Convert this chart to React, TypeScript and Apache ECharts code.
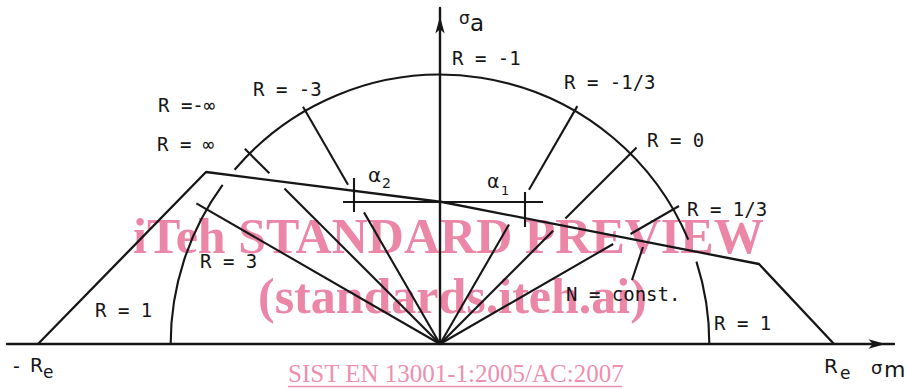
import React, { useEffect, useRef } from "react";
import * as echarts from "echarts";

// Haigh diagram: stress amplitude σa over mean stress σm, with R-ratio rays.

// Plot window in stress units (equal scale on both axes)
const sigmaMRange = [-324.75, 340.5];
const sigmaARange = [0, 252];

// Yield limits on the σm axis (-Re, Re)
const yieldLimits = [-301.5, 295.5];

// Constant-life envelope (N = const.)
const envelopeSigmaM = [-301.5, -175.5, 1.5, 239.25, 295.5];
const envelopeSigmaA = [0, 129, 106.5, 60, 0];

// Reference circle (R = -1 at the top) and its drawn spans, in degrees
const circleRadius = 202;
const circleSpans = [
  [0, 17.8],
  [22.8, 139.7],
  [143.8, 180],
];

// Rays of constant stress ratio: direction (deg) and drawn radial spans
const rayRatios = ["3", "∞", "-3", "-1/3", "0", "1/3"];
const rayAngles = [150, 135, 120, 60, 45, 30];
const raySpans = [
  [[0, 211]],
  [[0, 165], [181, 207]],
  [[0, 114], [138, 205.5]],
  [[0, 103.5], [133.5, 206]],
  [[0, 120], [133, 208.5]],
  [[0, 150], [165, 207]],
];

// Angle construction at σm = 0: horizontal reference and the two ray ticks
const alphaLevel = 106.5;
const alphaLineSpan = [-72.75, 77.25];
const alphaTickSigmaM = [-64.5, 63.75];
const alphaTickSpans = [
  [99, 124.5],
  [87.75, 114],
];

// Leader from the envelope to its "N = const." note
const leaderSigmaM = [152.25, 144];
const leaderSigmaA = [72.75, 48];

const INK = "#161616";
const PINK = "#ec86a6";
const MONO = "'DejaVu Sans Mono', monospace";
const SANS = "'DejaVu Sans', sans-serif";
const SERIF = "'Liberation Serif', 'Times New Roman', serif";

function buildSegments(): number[][][] {
  const segs: number[][][] = [];
  rayAngles.forEach((deg, i) => {
    const t = (deg * Math.PI) / 180;
    raySpans[i].forEach(([r0, r1]) => {
      segs.push([
        [r0 * Math.cos(t), r0 * Math.sin(t)],
        [r1 * Math.cos(t), r1 * Math.sin(t)],
      ]);
    });
  });
  segs.push([
    [alphaLineSpan[0], alphaLevel],
    [alphaLineSpan[1], alphaLevel],
  ]);
  alphaTickSigmaM.forEach((m, i) => {
    segs.push([
      [m, alphaTickSpans[i][0]],
      [m, alphaTickSpans[i][1]],
    ]);
  });
  segs.push([
    [leaderSigmaM[0], leaderSigmaA[0]],
    [leaderSigmaM[1], leaderSigmaA[1]],
  ]);
  return segs;
}

function txt(
  text: string,
  x: number,
  y: number,
  fontSize: number,
  family: string,
  extra: Record<string, unknown> = {}
) {
  return {
    type: "text",
    x,
    y,
    z: 10,
    silent: true,
    style: {
      text,
      fill: INK,
      font: `${fontSize}px ${family}`,
      align: "left",
      verticalAlign: "middle",
      ...extra,
    },
  };
}

export default function App() {
  const ref = useRef<HTMLDivElement>(null);

  useEffect(() => {
    if (!ref.current) return;
    const chart = echarts.init(ref.current, undefined, { renderer: "svg" });

    const axisCommon = {
      type: "value",
      axisTick: { show: false },
      axisLabel: { show: false },
      splitLine: { show: false },
    };

    const rLabels = [
      { t: `R = -1`, x: 452, y: 57.5 },
      { t: `R = ${rayRatios[3]}`, x: 564, y: 81.5 },
      { t: `R = ${rayRatios[4]}`, x: 647, y: 140 },
      { t: `R = ${rayRatios[2]}`, x: 253, y: 89 },
      { t: `R =-${rayRatios[1]}`, x: 158, y: 105 },
      { t: `R = ${rayRatios[1]}`, x: 157, y: 143.5 },
      { t: `R = ${rayRatios[5]}`, x: 687, y: 208.5 },
      { t: `R = ${rayRatios[0]}`, x: 200, y: 260.5 },
      { t: `R = 1`, x: 95, y: 310 },
      { t: `R = 1`, x: 714, y: 322.5 },
      { t: `N = const.`, x: 566, y: 294 },
    ];

    chart.setOption({
      animation: false,
      backgroundColor: "#ffffff",
      grid: { left: 7, right: 14, top: 8, bottom: 45, containLabel: false },
      xAxis: {
        ...axisCommon,
        min: sigmaMRange[0],
        max: sigmaMRange[1],
        axisLine: {
          show: true,
          onZero: true,
          symbol: ["none", "arrow"],
          symbolSize: [7, 17],
          symbolOffset: [0, -8.5],
          lineStyle: { color: INK, width: 2.4 },
        },
      },
      yAxis: {
        ...axisCommon,
        min: sigmaARange[0],
        max: sigmaARange[1],
        axisLine: {
          show: true,
          onZero: true,
          symbol: ["none", "arrow"],
          symbolSize: [7, 17],
          symbolOffset: [0, -8.5],
          lineStyle: { color: INK, width: 2.4 },
        },
      },
      series: [
        {
          name: "envelope",
          type: "line",
          data: envelopeSigmaM.map((m, i) => [m, envelopeSigmaA[i]]),
          symbol: "none",
          silent: true,
          lineStyle: { color: INK, width: 2.3 },
          z: 3,
        },
        {
          name: "rays",
          type: "lines",
          coordinateSystem: "cartesian2d",
          polyline: false,
          silent: true,
          data: buildSegments().map((c) => ({ coords: c })),
          lineStyle: { color: INK, width: 2.1, opacity: 1, curveness: 0 },
          z: 3,
        },
        {
          name: "circle",
          type: "custom",
          coordinateSystem: "cartesian2d",
          silent: true,
          data: [[0, 0]],
          renderItem: (_params: unknown, api: any) => {
            const c = api.coord([0, 0]);
            const e = api.coord([circleRadius, 0]);
            const r = e[0] - c[0];
            return {
              type: "group",
              children: circleSpans.map(([a, b]) => ({
                type: "arc",
                shape: {
                  cx: c[0],
                  cy: c[1],
                  r,
                  startAngle: (-b * Math.PI) / 180,
                  endAngle: (-a * Math.PI) / 180,
                  clockwise: true,
                },
                style: { stroke: INK, lineWidth: 2.1, fill: "none" },
              })),
            };
          },
          z: 3,
        },
        {
          name: "yield",
          type: "scatter",
          data: yieldLimits.map((m) => [m, 0]),
          symbolSize: 0,
          silent: true,
        },
      ],
      graphic: {
        elements: [
          // watermark
          {
            type: "text",
            x: 133,
            y: 236,
            z: 0,
            silent: true,
            style: {
              text: "iTeh STANDARD PREVIEW",
              fill: PINK,
              font: `bold 50px ${SERIF}`,
              align: "left",
              verticalAlign: "middle",
            },
          },
          {
            type: "text",
            x: 258,
            y: 296,
            z: 0,
            silent: true,
            style: {
              text: "(standards.iteh.ai)",
              fill: PINK,
              font: `bold 50px ${SERIF}`,
              align: "left",
              verticalAlign: "middle",
            },
          },
          {
            type: "text",
            x: 288,
            y: 373.6,
            z: 0,
            silent: true,
            style: {
              text: "SIST EN 13001-1:2005/AC:2007",
              fill: "#ee8fae",
              font: `25px ${SERIF}`,
              align: "left",
              verticalAlign: "middle",
            },
          },
          {
            type: "line",
            z: 0,
            silent: true,
            shape: { x1: 288, y1: 386.5, x2: 622, y2: 386.5 },
            style: { stroke: "#ee8fae", lineWidth: 1.5 },
          },
          // ratio labels
          ...rLabels.map((l) => txt(l.t, l.x, l.y, 19, MONO)),
          // angle symbols
          txt("α", 368, 174.5, 20, SANS),
          txt("2", 382, 182.5, 14, SANS),
          txt("α", 487, 181, 19, SANS),
          txt("1", 501, 190.5, 13, SANS),
          // axis titles
          txt("σ", 459, 17.5, 17, SANS),
          txt("a", 470, 23.2, 23, SANS),
          txt("σ", 871, 367, 18, SANS),
          txt("m", 884, 369.8, 22, SANS),
          txt("-", 13, 366, 19, SANS),
          txt("R", 30, 365, 19, SANS),
          txt("e", 43, 371.5, 17, SANS),
          txt("R", 824, 365.5, 20, SANS),
          txt("e", 840, 372.5, 17, SANS),
        ],
      },
    });

    return () => chart.dispose();
  }, []);

  return (
    <div
      ref={ref}
      style={{ position: "fixed", left: 0, top: 0, width: 908, height: 389 }}
    />
  );
}
